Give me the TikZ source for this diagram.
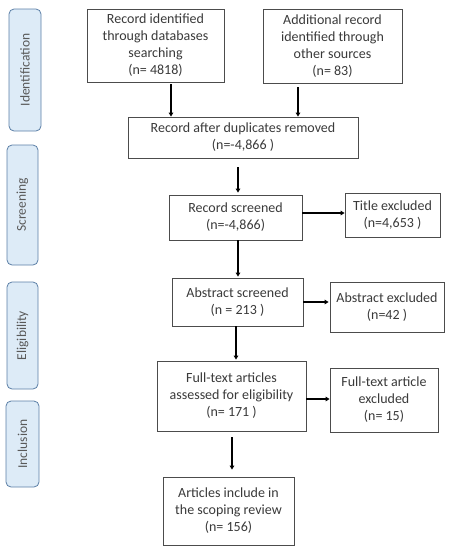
\documentclass[tikz,border=0pt]{standalone}
\usepackage{fontspec}
\setmainfont{Carlito}
\usetikzlibrary{arrows.meta,calc}
\definecolor{txt}{HTML}{3A3A3A}
\definecolor{sidefill}{HTML}{DDEBF7}
\definecolor{sidedraw}{HTML}{5B7FA6}
\begin{document}
\begin{tikzpicture}[x=1pt,y=-1pt,
  box/.style={draw=black!70,line width=0.8pt,fill=white,align=center,text=txt,
    font=\fontsize{14}{17}\selectfont,inner sep=0pt},
  side/.style={draw=sidedraw,fill=sidefill,line width=0.8pt,rounded corners=5pt,inner sep=0pt},
  sidetext/.style={rotate=90,text=black!65,font=\fontsize{13.5}{15}\selectfont,inner sep=0pt},
  arr/.style={line width=1.5pt,-{Triangle[length=4pt,width=4.5pt]}}]
\useasboundingbox (0,0) rectangle (452,550);
% side labels
\node[side,minimum width=32pt,minimum height=122pt] (s1) at (25,70) {};
\node[sidetext] (t1) at (s1.center) {Identification};
\node[side,minimum width=31pt,minimum height=120pt] (s2) at (22.5,205) {};
\node[sidetext] (t2) at (s2.center) {Screening};
\node[side,minimum width=31pt,minimum height=107pt] (s3) at (22.5,335.5) {};
\node[sidetext] (t3) at (s3.center) {Eligibility};
\node[side,minimum width=33pt,minimum height=86pt] (s4) at (22.5,444) {};
\node[sidetext] (t4) at (s4.center) {Inclusion};
% boxes
\node[box,minimum width=137pt,minimum height=73pt] (b1) at (155.5,45.5) {Record identified\\through databases\\searching\\(n= 4818)};
\node[box,minimum width=139pt,minimum height=74pt] (b2) at (332.5,46) {Additional record\\identified through\\other sources\\(n= 83)};
\node[box,minimum width=230pt,minimum height=41pt] (b3) at (243,137.5) {Record after duplicates removed\\(n=-4,866 )};
\node[box,minimum width=133pt,minimum height=45pt] (b4) at (235.5,217.5) {Record screened\\(n=-4,866)};
\node[box,minimum width=95pt,minimum height=44pt] (b5) at (392.5,215) {Title excluded\\(n=4,653 )};
\node[box,minimum width=131pt,minimum height=48pt] (b6) at (237.5,302) {Abstract screened\\(n = 213 )};
\node[box,minimum width=114pt,minimum height=50pt] (b7) at (387,307) {Abstract excluded\\(n=42 )};
\node[box,minimum width=149pt,minimum height=70pt] (b8) at (231.5,396) {Full-text articles\\assessed for eligibility\\(n= 171 )};
\node[box,minimum width=108pt,minimum height=64pt] (b9) at (384,400) {Full-text article\\excluded\\(n= 15)};
\node[box,minimum width=131pt,minimum height=68pt] (b10) at (228.5,511) {Articles include in\\the scoping review\\(n= 156)};
% arrows
\draw[arr] ($(b1.south -| 171,0)+(0,2)$) -- (b3.north -| 171,0);
\draw[arr] ($(b2.south -| 298,0)+(0,4)$) -- (b3.north -| 298,0);
\draw[arr] ($(b3.south -| 238,0)+(0,9)$) -- ($(b4.north -| 238,0)+(0,-2)$);
\draw[arr] (b4.east |- 0,213) -- (b5.west |- 0,213);
\draw[arr] (b4.south -| 238,0) -- ($(b6.north -| 238,0)+(0,-1)$);
\draw[arr] (b6.east |- 0,302) -- ($(b7.west |- 0,302)+(-1,0)$);
\draw[arr] (b6.south -| 236,0) -- ($(b8.north -| 236,0)+(0,-1)$);
\draw[arr] (b8.east |- 0,399) -- (b9.west |- 0,399);
\draw[arr] ($(b8.south -| 232,0)+(0,6)$) -- ($(b10.north -| 232,0)+(0,-7)$);
\end{tikzpicture}
\end{document}
